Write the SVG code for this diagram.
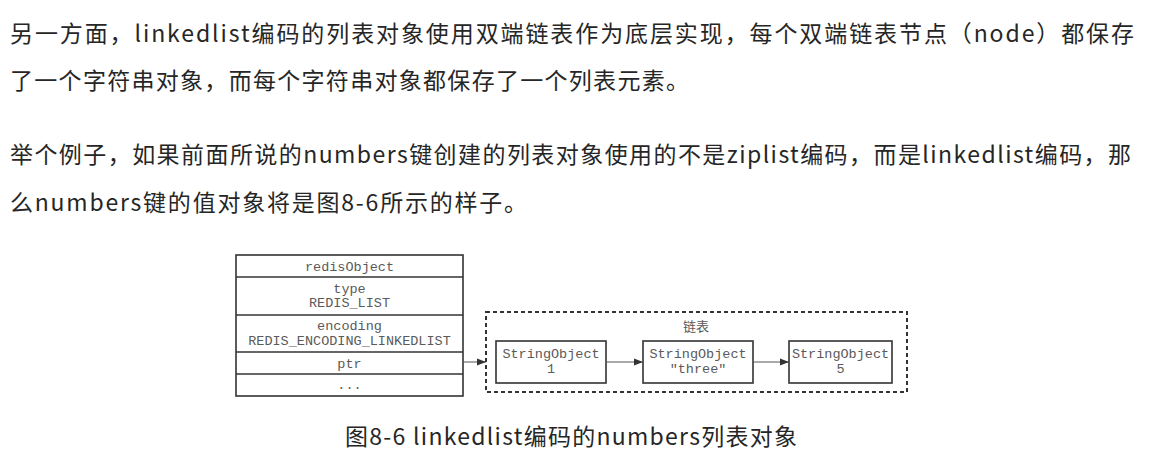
<svg xmlns="http://www.w3.org/2000/svg" width="1151" height="463" viewBox="0 0 1151 463">
<style>
.p{font-family:"Noto Sans CJK SC","Microsoft YaHei",sans-serif;font-size:23px;fill:#262626}
.m{font-family:"Liberation Mono","Courier New",monospace;font-size:13.5px;fill:#5a5a5a;text-anchor:middle}
.box{fill:#fff;stroke:#333;stroke-width:1.6}
.conn{stroke:#555;stroke-width:1;fill:none}
</style>
<defs>
<marker id="ah" viewBox="0 0 10 10" refX="10" refY="5" markerWidth="9" markerHeight="9" markerUnits="userSpaceOnUse" orient="auto">
<path d="M0,1 L10,5 L0,9 z" fill="#333"/>
</marker>
</defs>
<rect width="1151" height="463" fill="#fff"/>
<g id="paragraph">
<text class="p" x="10" y="42" textLength="1124" lengthAdjust="spacing">另一方面，linkedlist编码的列表对象使用双端链表作为底层实现，每个双端链表节点（node）都保存</text>
<text class="p" x="10" y="89" textLength="679" lengthAdjust="spacing">了一个字符串对象，而每个字符串对象都保存了一个列表元素。</text>
<text class="p" x="10" y="163" textLength="1121" lengthAdjust="spacing">举个例子，如果前面所说的numbers键创建的列表对象使用的不是ziplist编码，而是linkedlist编码，那</text>
<text class="p" x="10" y="211" textLength="517" lengthAdjust="spacing">么numbers键的值对象将是图8-6所示的样子。</text>
</g>
<g id="redisObject">
<rect class="box" x="236" y="255" width="227" height="141"/>
<line class="box" x1="236" y1="277" x2="463" y2="277"/>
<line class="box" x1="236" y1="315" x2="463" y2="315"/>
<line class="box" x1="236" y1="352" x2="463" y2="352"/>
<line class="box" x1="236" y1="374" x2="463" y2="374"/>
<text class="m" x="349.5" y="270.5">redisObject</text>
<text class="m" x="349.5" y="293">type</text>
<text class="m" x="349.5" y="307">REDIS_LIST</text>
<text class="m" x="349.5" y="330">encoding</text>
<text class="m" x="349.5" y="344.5">REDIS_ENCODING_LINKEDLIST</text>
<text class="m" x="349.5" y="367.5">ptr</text>
<text class="m" x="349.5" y="389">...</text>
</g>
<g id="linkedlist">
<rect x="486" y="312" width="421" height="80" fill="none" stroke="#333" stroke-width="2" stroke-dasharray="4,3"/>
<text class="m" x="696" y="331" style="font-family:'Noto Sans CJK SC',sans-serif;font-size:13px">链表</text>
</g>
<g id="node1">
<rect class="box" x="496" y="341" width="110" height="42"/>
<text class="m" x="551" y="358">StringObject</text>
<text class="m" x="551" y="373">1</text>
</g>
<g id="node2">
<rect class="box" x="643" y="341" width="110" height="42"/>
<text class="m" x="698" y="358">StringObject</text>
<text class="m" x="698" y="373">"three"</text>
</g>
<g id="node3">
<rect class="box" x="789" y="341" width="103" height="42"/>
<text class="m" x="840.5" y="358">StringObject</text>
<text class="m" x="840.5" y="373">5</text>
</g>
<g id="connectors">
<line class="conn" x1="463" y1="362" x2="486" y2="362" marker-end="url(#ah)"/>
<line class="conn" x1="606" y1="362" x2="643" y2="362" marker-end="url(#ah)"/>
<line class="conn" x1="753" y1="362" x2="789" y2="362" marker-end="url(#ah)"/>
</g>
<g id="caption">
<text class="p" x="345" y="445" textLength="452" lengthAdjust="spacing">图8-6 linkedlist编码的numbers列表对象</text>
</g>
</svg>
